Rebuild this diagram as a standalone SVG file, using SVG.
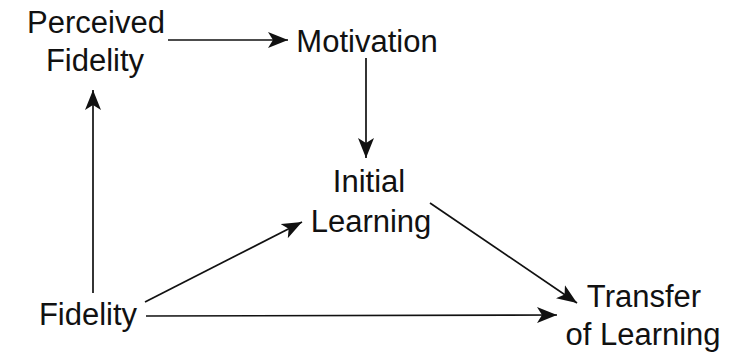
<svg xmlns="http://www.w3.org/2000/svg" width="732" height="354" viewBox="0 0 732 354">
<style>
text{font-family:"Liberation Sans",Arial,Helvetica,sans-serif;font-size:31px;fill:#111;text-anchor:middle}
.c line{stroke:#111;stroke-width:1.7;fill:none;marker-end:url(#ah)}
</style>
<defs>
<marker id="ah" markerUnits="userSpaceOnUse" viewBox="0 0 20 16" markerWidth="20" markerHeight="16" refX="20" refY="8" orient="auto">
<path d="M0,0 L20,8 L0,16 L5,8 Z" fill="#111"/>
</marker>
</defs>
<rect width="732" height="354" fill="#fff"/>
<g id="perceived-fidelity"><text x="96" y="33">Perceived</text><text x="95" y="71">Fidelity</text></g>
<g id="motivation"><text x="367" y="52">Motivation</text></g>
<g id="initial-learning"><text x="369" y="192">Initial</text><text x="371" y="232">Learning</text></g>
<g id="fidelity"><text x="88" y="325">Fidelity</text></g>
<g id="transfer"><text x="644" y="307">Transfer</text><text x="643" y="345">of Learning</text></g>
<g id="connectors" class="c">
<line x1="168" y1="40" x2="288" y2="40"/>
<line x1="366" y1="58" x2="366" y2="158"/>
<line x1="93" y1="293" x2="93" y2="90"/>
<line x1="145" y1="302" x2="302" y2="222"/>
<line x1="146" y1="316" x2="557" y2="315"/>
<line x1="430" y1="203" x2="577" y2="303"/>
</g>
</svg>
